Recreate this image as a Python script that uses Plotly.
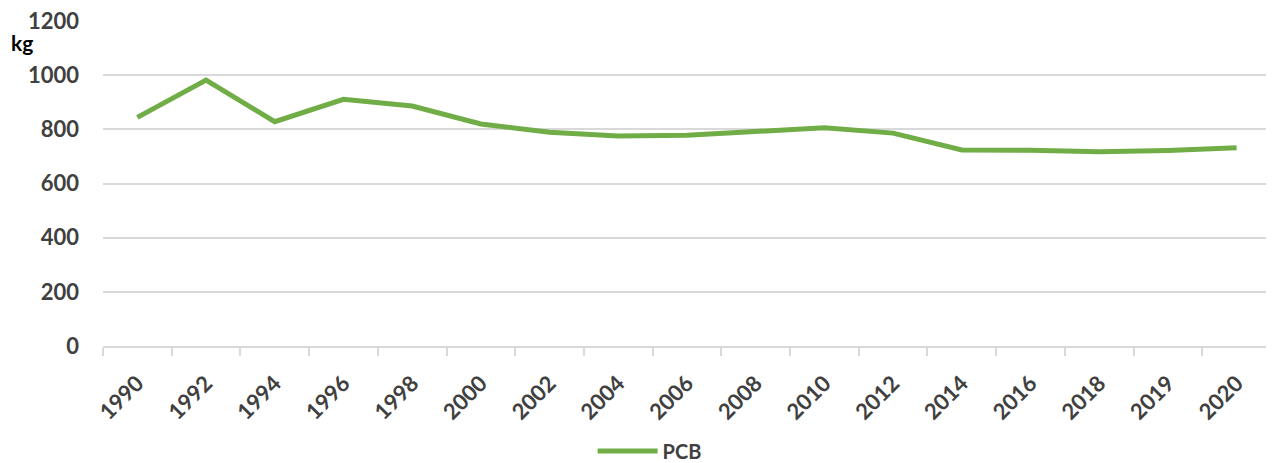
import plotly.graph_objects as go

years = ["1990", "1992", "1994", "1996", "1998", "2000", "2002", "2004", "2006",
         "2008", "2010", "2012", "2014", "2016", "2018", "2019", "2020"]
pcb_kg = [844, 982, 828, 911, 886, 820, 789, 775, 778,
          791, 806, 786, 724, 723, 717, 722, 732]
y_ticks = [0, 200, 400, 600, 800, 1000, 1200]

font_family = "Lato, 'Open Sans', sans-serif"
grey = "#404040"

fig = go.Figure(go.Scatter(
    x=years, y=pcb_kg, mode="lines", name="PCB",
    line=dict(color="#70AD47", width=5),
))

# the page body adds an 8px margin, so the figure is a bit smaller than the window
fig.update_layout(
    width=1266, height=455,
    margin=dict(l=95, r=3, t=13, b=117, autoexpand=False),
    paper_bgcolor="white", plot_bgcolor="white",
    font=dict(family=font_family, size=20, color=grey),
    showlegend=True,
    legend=dict(orientation="h", x=0.468, xanchor="center", xref="paper",
                y=12 / 455, yanchor="middle", yref="container", itemwidth=60,
                font=dict(size=20, color=grey, family=font_family, weight="bold")),
    annotations=[dict(text="<b>kg</b>", x=-0.069, y=0.935, xref="paper", yref="paper",
                      xanchor="center", yanchor="middle", showarrow=False,
                      font=dict(size=21, color="black", family=font_family))],
)
fig.update_xaxes(
    type="category", range=[-0.5, len(years) - 0.5], automargin=False,
    tickangle=-45, tickson="boundaries",
    ticks="outside", ticklen=8, tickcolor="#D9D9D9", tickwidth=1.5,
    showline=True, linecolor="#D9D9D9", linewidth=1.5,
    showgrid=False, ticklabelstandoff=14, ticklabeloverflow="allow",
    tickfont=dict(size=22, color=grey, weight="bold"),
)
fig.update_yaxes(
    range=[0, 1200], tickvals=y_ticks, automargin=False,
    showgrid=True, gridcolor="#D9D9D9", gridwidth=1.5,
    zeroline=False, showline=False, ticks="", ticklabelstandoff=23,
    ticklabeloverflow="allow",
    tickfont=dict(size=22, color=grey, weight="bold"),
)

fig.write_html("out.html")
